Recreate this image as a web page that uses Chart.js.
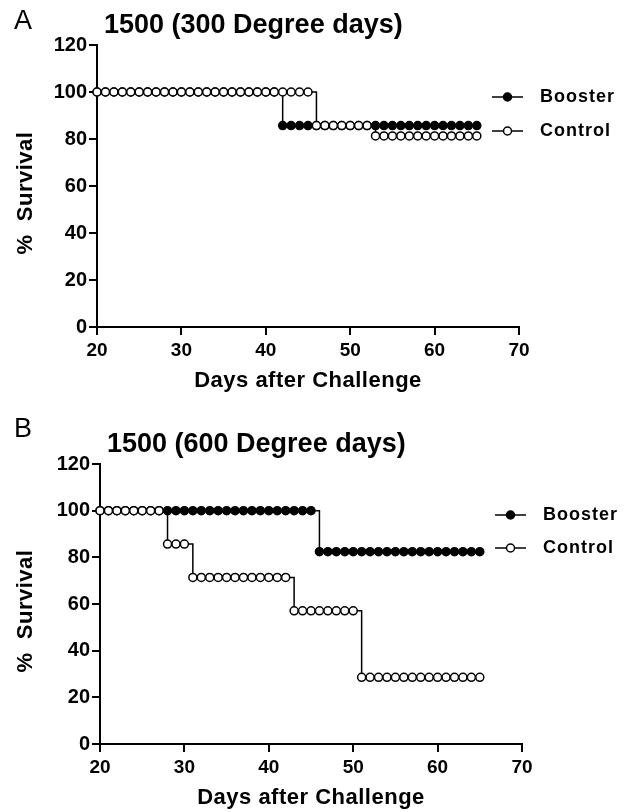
<!DOCTYPE html>
<html>
<head>
<meta charset="utf-8">
<script src="https://cdn.jsdelivr.net/npm/chart.js@4.4.1/dist/chart.umd.min.js"></script>
<style>
  html, body { margin: 0; padding: 0; background: #fff; }
  canvas { display: block; }
</style>
</head>
<body>
<canvas id="chartA" width="634" height="406"></canvas>
<canvas id="chartB" width="634" height="406"></canvas>
<script>
const FONT = '"Liberation Sans", Arial, Helvetica, sans-serif';

// days after challenge (one point per day)
const days = [20, 21, 22, 23, 24, 25, 26, 27, 28, 29,
              30, 31, 32, 33, 34, 35, 36, 37, 38, 39,
              40, 41, 42, 43, 44, 45, 46, 47, 48, 49,
              50, 51, 52, 53, 54, 55, 56, 57, 58, 59,
              60, 61, 62, 63, 64, 65];

const seriesNames = ['Booster', 'Control'];
const xTicks = [20, 30, 40, 50, 60, 70];
const yTicks = [0, 20, 40, 60, 80, 100, 120];

// A: 1500 (300 Degree days)
const boosterA = [100, 100, 100, 100, 100, 100, 100, 100, 100, 100,
                  100, 100, 100, 100, 100, 100, 100, 100, 100, 100,
                  100, 100, 85.7, 85.7, 85.7, 85.7, 85.7, 85.7, 85.7, 85.7,
                  85.7, 85.7, 85.7, 85.7, 85.7, 85.7, 85.7, 85.7, 85.7, 85.7,
                  85.7, 85.7, 85.7, 85.7, 85.7, 85.7];
const controlA = [100, 100, 100, 100, 100, 100, 100, 100, 100, 100,
                  100, 100, 100, 100, 100, 100, 100, 100, 100, 100,
                  100, 100, 100, 100, 100, 100, 85.7, 85.7, 85.7, 85.7,
                  85.7, 85.7, 85.7, 81.3, 81.3, 81.3, 81.3, 81.3, 81.3, 81.3,
                  81.3, 81.3, 81.3, 81.3, 81.3, 81.3];

// B: 1500 (600 Degree days)
const boosterB = [100, 100, 100, 100, 100, 100, 100, 100, 100, 100,
                  100, 100, 100, 100, 100, 100, 100, 100, 100, 100,
                  100, 100, 100, 100, 100, 100, 82.4, 82.4, 82.4, 82.4,
                  82.4, 82.4, 82.4, 82.4, 82.4, 82.4, 82.4, 82.4, 82.4, 82.4,
                  82.4, 82.4, 82.4, 82.4, 82.4, 82.4];
const controlB = [100, 100, 100, 100, 100, 100, 100, 100, 85.7, 85.7,
                  85.7, 71.4, 71.4, 71.4, 71.4, 71.4, 71.4, 71.4, 71.4, 71.4,
                  71.4, 71.4, 71.4, 57.1, 57.1, 57.1, 57.1, 57.1, 57.1, 57.1,
                  57.1, 28.6, 28.6, 28.6, 28.6, 28.6, 28.6, 28.6, 28.6, 28.6,
                  28.6, 28.6, 28.6, 28.6, 28.6, 28.6];

// titles, axis labels and legend drawn straight on the canvas
const panelText = {
  id: 'panelText',
  afterDraw(chart, args, opts) {
    const ctx = chart.ctx;
    const area = chart.chartArea;
    ctx.save();
    ctx.fillStyle = '#000';
    ctx.textBaseline = 'middle';
    ctx.textAlign = 'left';

    ctx.font = `27px ${FONT}`;
    ctx.fillText(opts.letter, 14, opts.letterY);

    ctx.font = `bold 27px ${FONT}`;
    ctx.fillText(opts.title, area.left + 7, area.top - 19);

    ctx.letterSpacing = '0.5px';
    ctx.font = `bold 22px ${FONT}`;
    ctx.textAlign = 'center';
    ctx.fillText('Days after Challenge', (area.left + area.right) / 2, area.bottom + 54);

    ctx.save();
    ctx.translate(26, (area.top + area.bottom) / 2 + 7);
    ctx.rotate(-Math.PI / 2);
    ctx.fillText('%  Survival', 0, 0);
    ctx.restore();

    // legend: line with marker, then label
    chart.data.datasets.forEach((ds, i) => {
      const y = opts.legendY + i * opts.legendGap;
      const x0 = opts.legendX;
      ctx.strokeStyle = '#000';
      ctx.lineWidth = 1.5;
      ctx.beginPath();
      ctx.moveTo(x0, y);
      ctx.lineTo(x0 + 31, y);
      ctx.stroke();
      ctx.beginPath();
      ctx.arc(x0 + 15.5, y, 4, 0, Math.PI * 2);
      ctx.fillStyle = ds.pointBackgroundColor;
      ctx.fill();
      ctx.stroke();
      ctx.fillStyle = '#000';
      ctx.textAlign = 'left';
      ctx.letterSpacing = '1px';
      ctx.font = `bold 18px ${FONT}`;
      ctx.fillText(ds.label, x0 + 48, y);
    });
    ctx.restore();
  }
};

function makePanel(id, booster, control, p) {
  const toPoints = arr => days.map((d, i) => ({ x: d, y: arr[i] }));
  const axisLook = {
    grid: { display: true, drawOnChartArea: false, drawTicks: true, tickLength: 8, color: '#000', lineWidth: 2 },
    border: { display: true, color: '#000', width: 2 }
  };
  return new Chart(document.getElementById(id), {
    type: 'line',
    data: {
      datasets: [
        {
          label: seriesNames[0],
          data: toPoints(booster),
          stepped: true,
          borderColor: '#000',
          borderWidth: 1.5,
          pointRadius: 4,
          pointBorderWidth: 1.5,
          pointBorderColor: '#000',
          pointBackgroundColor: '#000',
          clip: false,
          order: 1
        },
        {
          label: seriesNames[1],
          data: toPoints(control),
          stepped: true,
          borderColor: '#000',
          borderWidth: 1.5,
          pointRadius: 4,
          pointBorderWidth: 1.5,
          pointBorderColor: '#000',
          pointBackgroundColor: '#fff',
          clip: false,
          order: 0
        }
      ]
    },
    options: {
      responsive: false,
      animation: false,
      layout: { padding: { top: p.top, right: 634 - p.right, left: 0, bottom: 0 } },
      plugins: {
        legend: { display: false },
        tooltip: { enabled: false },
        panelText: p.text
      },
      scales: {
        x: {
          type: 'linear',
          min: 20,
          max: 70,
          ...axisLook,
          afterBuildTicks: s => { s.ticks = xTicks.map(v => ({ value: v })); },
          afterFit: s => { s.height = 406 - p.bottom; },
          ticks: { color: '#000', font: { family: FONT, size: 19, weight: 'bold' }, padding: 4, maxRotation: 0, autoSkip: false }
        },
        y: {
          min: 0,
          max: 120,
          ...axisLook,
          afterBuildTicks: s => { s.ticks = yTicks.map(v => ({ value: v })); },
          afterFit: s => { s.width = p.left; },
          ticks: { color: '#000', font: { family: FONT, size: 20, weight: 'bold' }, padding: 2 }
        }
      }
    },
    plugins: [panelText]
  });
}

makePanel('chartA', boosterA, controlA, {
  left: 97, right: 519, top: 45, bottom: 327,
  text: { letter: 'A', letterY: 22, title: '1500 (300 Degree days)', legendX: 492, legendY: 97, legendGap: 34 }
});

makePanel('chartB', boosterB, controlB, {
  left: 100, right: 522, top: 58, bottom: 338,
  text: { letter: 'B', letterY: 24, title: '1500 (600 Degree days)', legendX: 495, legendY: 109, legendGap: 33 }
});
</script>
</body>
</html>
